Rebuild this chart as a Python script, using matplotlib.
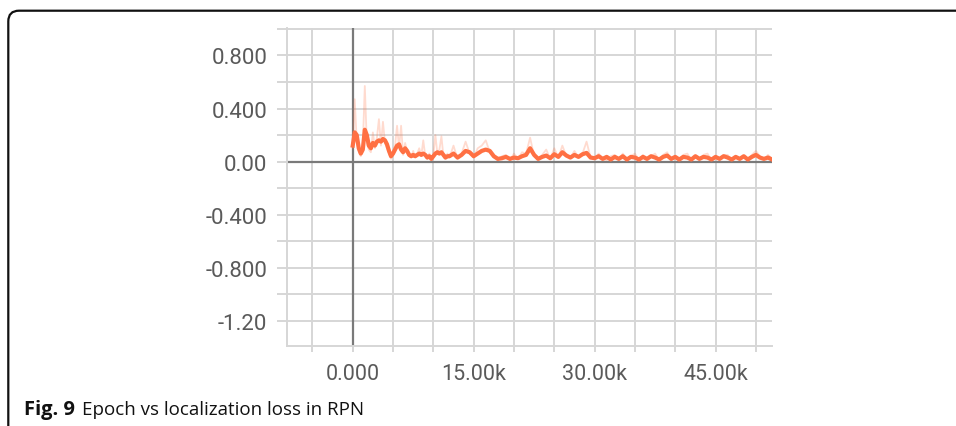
import numpy as np
import matplotlib.pyplot as plt
from matplotlib.path import Path
from matplotlib.patches import PathPatch

# training steps (k) - dense at the start, coarser later
steps_early = np.arange(0, 12, 0.25)
steps_late = np.arange(12, 52.01, 0.5)
steps = np.concatenate([steps_early, steps_late])

# smoothed localization loss
smooth_early = [0.12, 0.22, 0.20, 0.10, 0.06, 0.09, 0.24, 0.20, 0.12, 0.10, 0.14, 0.12,
                0.15, 0.16, 0.15, 0.17, 0.16, 0.13, 0.08, 0.04, 0.06, 0.09, 0.12, 0.13,
                0.09, 0.07, 0.10, 0.08, 0.05, 0.04, 0.05, 0.04, 0.05, 0.06, 0.05, 0.06,
                0.05, 0.03, 0.04, 0.02, 0.04, 0.06, 0.07, 0.06, 0.07, 0.05, 0.03, 0.04]
smooth_late = [0.04, 0.06, 0.03, 0.05, 0.08, 0.07, 0.04, 0.06, 0.08, 0.09, 0.08, 0.04,
               0.02, 0.025, 0.035, 0.02, 0.03, 0.025, 0.04, 0.05, 0.10, 0.05, 0.02, 0.035,
               0.045, 0.025, 0.055, 0.035, 0.07, 0.045, 0.03, 0.05, 0.035, 0.055, 0.065, 0.03,
               0.025, 0.04, 0.02, 0.035, 0.015, 0.035, 0.02, 0.04, 0.015, 0.035, 0.03, 0.015,
               0.035, 0.02, 0.04, 0.03, 0.015, 0.035, 0.045, 0.02, 0.035, 0.015, 0.035, 0.03,
               0.015, 0.04, 0.02, 0.035, 0.03, 0.015, 0.035, 0.02, 0.04, 0.03, 0.015, 0.035,
               0.02, 0.04, 0.015, 0.035, 0.05, 0.03, 0.02, 0.03, 0.015]
# raw (unsmoothed) values
raw_early = [0.10, 0.47, 0.15, 0.08, 0.04, 0.12, 0.57, 0.14, 0.09, 0.07, 0.22, 0.10,
             0.18, 0.32, 0.12, 0.30, 0.14, 0.10, 0.06, 0.02, 0.08, 0.12, 0.27, 0.10,
             0.27, 0.05, 0.14, 0.07, 0.04, 0.03, 0.08, 0.03, 0.06, 0.10, 0.04, 0.16,
             0.04, 0.02, 0.06, 0.01, 0.05, 0.20, 0.06, 0.09, 0.19, 0.04, 0.02, 0.06]
raw_late = [0.03, 0.12, 0.02, 0.06, 0.15, 0.06, 0.03, 0.10, 0.12, 0.16, 0.07, 0.03,
            0.01, 0.04, 0.05, 0.01, 0.06, 0.02, 0.07, 0.06, 0.18, 0.04, 0.01, 0.05,
            0.09, 0.02, 0.10, 0.03, 0.12, 0.04, 0.03, 0.08, 0.03, 0.06, 0.15, 0.03,
            0.02, 0.06, 0.02, 0.01, 0.04, 0.05, 0.01, 0.06, 0.01, 0.04, 0.06, 0.01,
            0.05, 0.01, 0.04, 0.06, 0.01, 0.05, 0.07, 0.01, 0.04, 0.01, 0.05, 0.06,
            0.01, 0.04, 0.01, 0.05, 0.06, 0.01, 0.04, 0.01, 0.05, 0.05, 0.01, 0.04,
            0.01, 0.04, 0.01, 0.05, 0.08, 0.04, 0.01, 0.05, 0.02]
smooth = np.array(smooth_early + smooth_late)
raw = np.array(raw_early + raw_late)

y_ticks = [-1.2, -1.0, -0.8, -0.6, -0.4, -0.2, 0.0, 0.2, 0.4, 0.6, 0.8, 1.0]
y_labels = ["-1.20", "", "-0.800", "", "-0.400", "", "0.00", "", "0.400", "", "0.800", ""]
x_ticks = [-5, 0, 5, 10, 15, 20, 25, 30, 35, 40, 45, 50]
x_labels = ["", "0.000", "", "", "15.00k", "", "", "30.00k", "", "", "45.00k", ""]

orange = "#ff7043"
grid_c = "#d6d6d6"

fig = plt.figure(figsize=(9.56, 4.27), dpi=100)
ax = fig.add_axes([287 / 956, 1 - 347 / 427, 485 / 956, 318 / 427])

ax.plot(steps, raw, color=orange, alpha=0.25, lw=1.3, zorder=3)
ax.plot(steps, smooth, color=orange, lw=3.0, zorder=4)
ax.axhline(0, color="#7a7a7a", lw=1.6, zorder=2)
ax.axvline(0, color="#7a7a7a", lw=1.6, zorder=2)

ax.set_xlim(-8.15, 52.0)
ax.set_ylim(-1.392, 1.0075)
ax.set_xticks(x_ticks)
ax.set_xticklabels(x_labels)
ax.set_yticks(y_ticks)
ax.set_yticklabels(y_labels)
ax.grid(True, color=grid_c, lw=1.4, zorder=1)
ax.tick_params(axis="y", length=7.2, width=1.4, color=grid_c, pad=7,
               labelsize=16, labelcolor="#5a5a5a")
ax.tick_params(axis="x", length=4.5, width=1.4, color=grid_c, pad=8,
               labelsize=15.5, labelcolor="#5a5a5a")
for lab in ax.get_xticklabels() + ax.get_yticklabels():
    lab.set_family("Roboto")
for side in ["top", "right"]:
    ax.spines[side].set_visible(False)
for side in ["left", "bottom"]:
    ax.spines[side].set_color(grid_c)
    ax.spines[side].set_linewidth(1.4)

# frame and caption
over = fig.add_axes([0, 0, 1, 1], zorder=-1)
over.set_xlim(0, 956)
over.set_ylim(427, 0)
over.axis("off")
verts = [(957, 11.7), (19, 11.7), (8.3, 11.7), (8.3, 22.4), (8.3, 430)]
codes = [Path.MOVETO, Path.LINETO, Path.CURVE3, Path.CURVE3, Path.LINETO]
over.add_patch(PathPatch(Path(verts, codes), fill=False, lw=1.6, ec="#111111"))
over.text(24, 410, "Fig. 9", fontsize=14.5, fontweight="bold", family="Open Sans",
          va="center", ha="left", color="#111111")
over.text(82, 410, "Epoch vs localization loss in RPN", fontsize=13.5, family="Open Sans",
          va="center", ha="left", color="#111111")

fig.savefig("out.png", dpi=100)
